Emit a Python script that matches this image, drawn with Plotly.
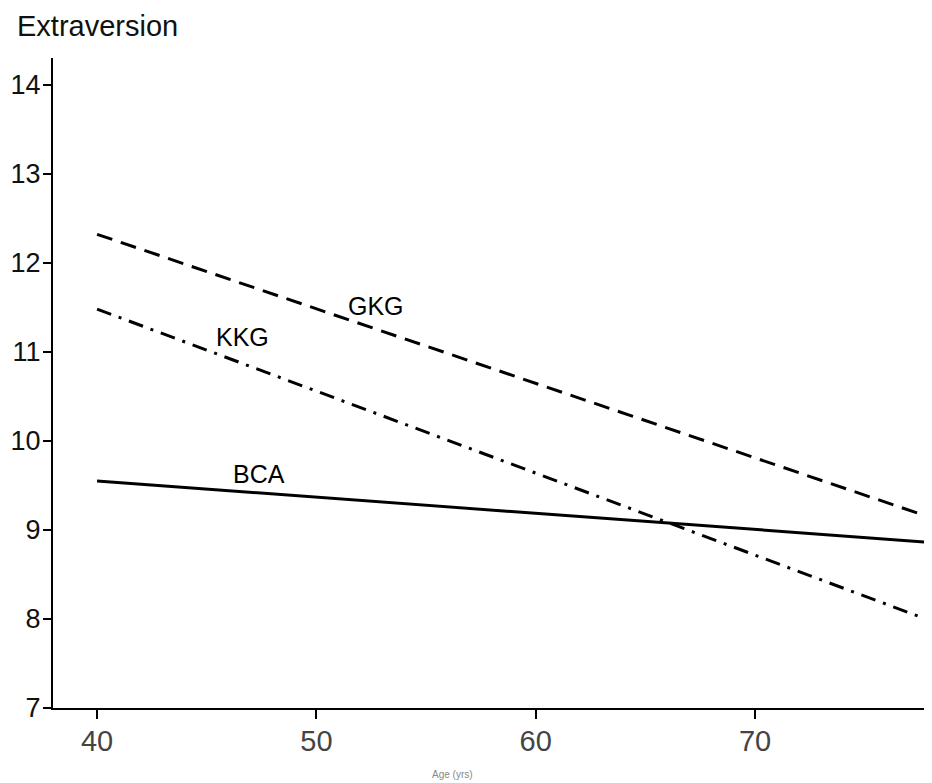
import plotly.graph_objects as go

# Data
age = [40, 78]
gkg = [12.32, 9.14]
kkg = [11.48, 7.98]
bca = [9.55, 8.86]

series_names = ["GKG", "KKG", "BCA"]
label_age = [52.72, 46.61, 47.38]
label_val = [11.52, 11.17, 9.63]

x_ticks = [40, 50, 60, 70]
y_ticks = [7, 8, 9, 10, 11, 12, 13, 14]

FONT = "Liberation Sans"

fig = go.Figure()
fig.add_trace(go.Scatter(x=age, y=gkg, mode="lines", name="GKG",
                         line=dict(color="black", width=3, dash="16px,9px")))
fig.add_trace(go.Scatter(x=age, y=kkg, mode="lines", name="KKG",
                         line=dict(color="black", width=3, dash="15px,8px,3px,8px")))
fig.add_trace(go.Scatter(x=age, y=bca, mode="lines", name="BCA",
                         line=dict(color="black", width=3)))

for name, ax, ay in zip(series_names, label_age, label_val):
    fig.add_annotation(x=ax, y=ay, text=name, showarrow=False,
                       font=dict(family=FONT, size=25, color="black"),
                       xanchor="center", yanchor="middle")

fig.add_annotation(xref="paper", yref="paper", x=-0.0432, y=1.049,
                   text="Extraversion", showarrow=False,
                   xanchor="left", yanchor="middle",
                   font=dict(family=FONT, size=29, color="#111"))
fig.add_annotation(xref="paper", yref="paper", x=0.454, y=-0.103,
                   text="Age (yrs)", showarrow=False,
                   xanchor="center", yanchor="middle",
                   font=dict(family=FONT, size=10, color="#888"))

fig.update_layout(
    width=932, height=783,
    margin=dict(l=45, r=8, t=50, b=83, autoexpand=False),
    paper_bgcolor="white", plot_bgcolor="white",
    showlegend=False,
    font=dict(family=FONT, color="black"),
)
fig.update_xaxes(range=[37.99, 78.07], tickvals=x_ticks,
                 ticktext=[str(v) for v in x_ticks],
                 showgrid=False, zeroline=False,
                 showline=True, linecolor="black", linewidth=2,
                 ticks="outside", ticklen=9, tickwidth=1.5, tickcolor="black",
                 ticklabelstandoff=-3,
                 tickfont=dict(family=FONT, size=29, color="#444"))
fig.update_yaxes(range=[7, 14.3], tickvals=y_ticks,
                 ticktext=[str(v) for v in y_ticks],
                 showgrid=False, zeroline=False,
                 showline=True, linecolor="black", linewidth=2,
                 ticks="outside", ticklen=8, tickwidth=2, tickcolor="black",
                 ticklabelstandoff=-3,
                 tickfont=dict(family=FONT, size=27, color="#111"))

fig.write_html("out.html")
